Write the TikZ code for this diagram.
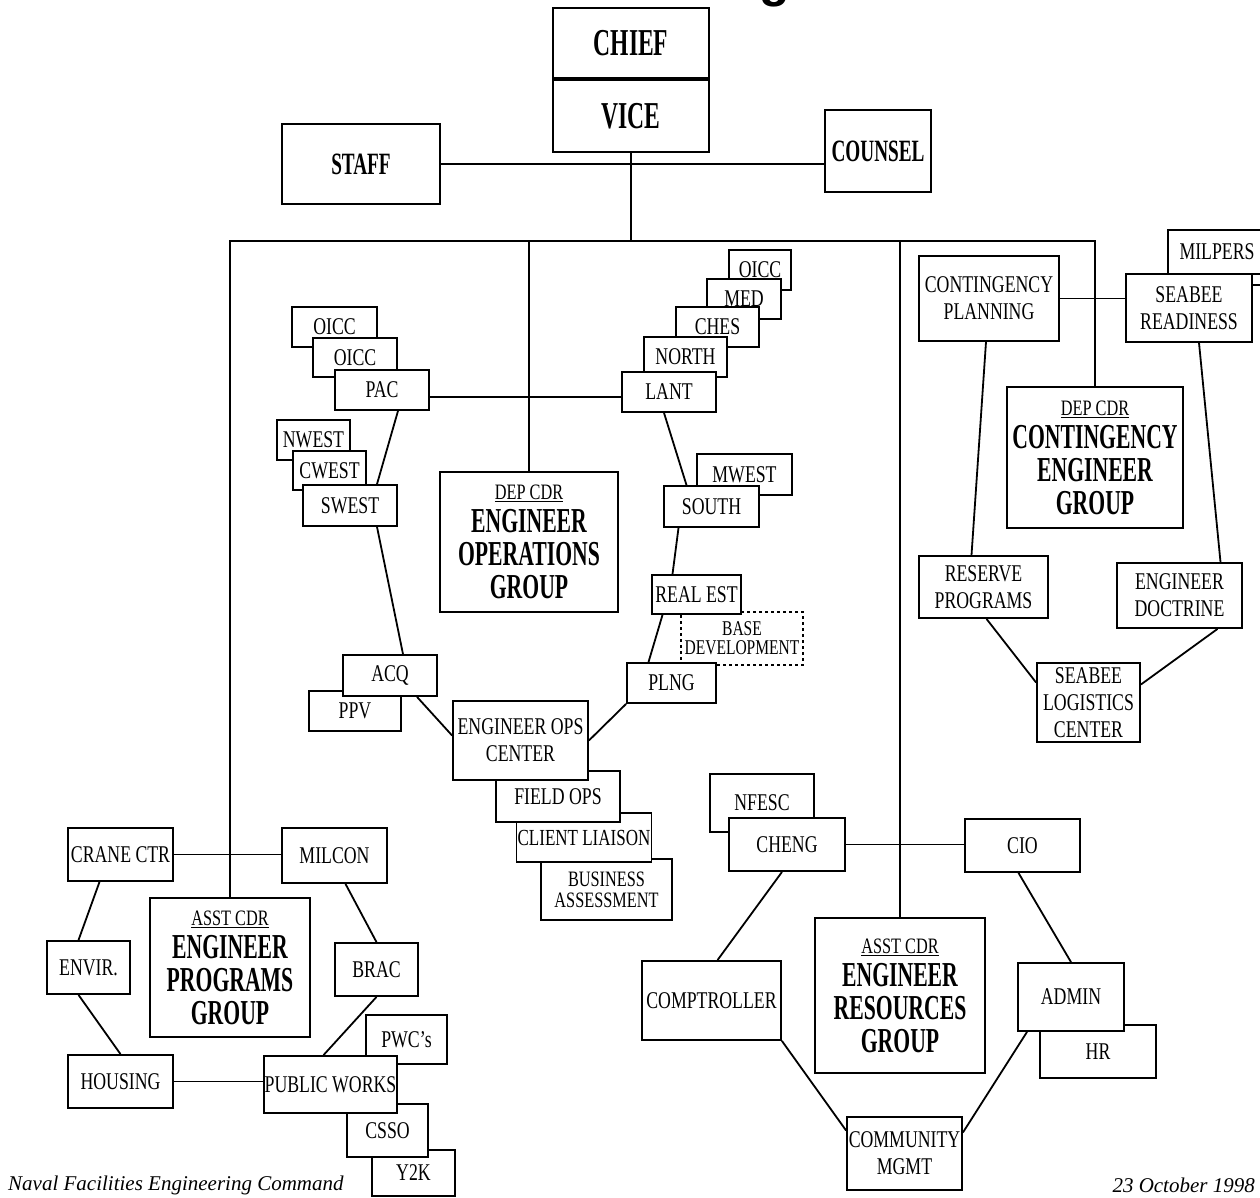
\documentclass[tikz,border=0pt]{standalone}
\usepackage{fontspec}
\setmainfont{Liberation Serif}
\newfontfamily\boxfont[FakeStretch=0.74]{Liberation Serif}
\newfontfamily\headfont[FakeStretch=0.62]{Liberation Serif}
\newfontfamily\titlefont{Liberation Sans}
\usepackage{tikz}
\usetikzlibrary{positioning,calc}

\begin{document}
\begin{tikzpicture}[
  x=1pt, y=-1pt,
  box/.style={rectangle, draw, line width=1.8pt, fill=white, align=center, inner sep=1pt,
    font=\boxfont\fontsize{24}{27}\selectfont},
  sz/.style 2 args={minimum width=#1, minimum height=#2},
  topbox/.style={box, font=\headfont\bfseries\fontsize{38}{38}\selectfont},
  sidebox/.style={box, font=\headfont\bfseries\fontsize{31}{31}\selectfont},
  group/.style={box, font=\headfont\bfseries\fontsize{35}{33}\selectfont},
  link/.style={line width=1.8pt}
]
  \fill[white] (0,0) rectangle (1260,1197);
  \useasboundingbox (0,0) rectangle (1260,1197);

  % Title (cut off at the top)
  \node[font=\titlefont\bfseries\fontsize{50}{50}\selectfont, anchor=base, inner sep=0pt] (title) at (775,-4) {g};

  % Nodes
  \node[topbox, sz={156}{70}] (chief) at (631,43) {CHIEF};
  \node[topbox, sz={156}{72}] (vice) at (631,116) {VICE};
  \node[sidebox, sz={158}{80}] (staff) at (361,164) {STAFF};
  \node[sidebox, sz={106}{82}] (counsel) at (878,151) {COUNSEL};

  % Pacific stack
  \node[box, sz={85}{40}] (oiccA) at (334.5,327) {OICC};
  \node[box, sz={84}{39}] (oiccB) at (355,357.5) {OICC};
  \node[box, sz={94}{40}] (pac) at (382,390) {PAC};
  \node[box, sz={73}{40}] (nwest) at (313.5,440) {NWEST};
  \node[box, sz={73}{39}] (cwest) at (329.5,470.5) {CWEST};
  \node[box, sz={94}{41}] (swest) at (350,505.5) {SWEST};

  % Atlantic stack
  \node[box, sz={62}{40}] (oiccC) at (760,270) {OICC};
  \node[box, sz={74}{40}] (med) at (744,299) {MED};
  \node[box, sz={83}{40}] (ches) at (717.5,327) {CHES};
  \node[box, sz={83}{40}] (north) at (685.5,357) {NORTH};
  \node[box, sz={94}{40}] (lant) at (669,392) {LANT};
  \node[box, sz={95}{41}] (mwest) at (744.5,474.5) {MWEST};
  \node[box, sz={95}{41}] (south) at (711.5,506.5) {SOUTH};

  \node[group, sz={178}{140}] (depops) at (529,542)
    {{\boxfont\mdseries\fontsize{22}{33}\selectfont\underline{DEP CDR}}\\ENGINEER\\OPERATIONS\\GROUP};

  \node[box, dashed, sz={122}{53}, font=\boxfont\fontsize{21}{19}\selectfont] (basedev) at (742,638.5) {BASE\\DEVELOPMENT};
  \node[box, sz={89}{39}] (realest) at (696.5,594.5) {REAL EST};
  \node[box, sz={89}{40}] (plng) at (671.5,683) {PLNG};
  \node[box, sz={92}{40}] (ppv) at (355,711) {PPV};
  \node[box, sz={94}{41}] (acq) at (390,675.5) {ACQ};
  \node[box, sz={131}{61}, font=\boxfont\fontsize{22}{21}\selectfont] (business) at (606.5,889.5) {BUSINESS\\ASSESSMENT};
  \node[box, sz={130}{49}, font=\boxfont\fontsize{23}{27}\selectfont] (client) at (584,837.5) {CLIENT LIAISON};
  \node[box, sz={124}{51}] (fieldops) at (558,796.5) {FIELD OPS};
  \node[box, sz={135}{79}] (eoc) at (520.5,740.5) {ENGINEER OPS\\CENTER};

  % Programs group
  \node[box, sz={105}{53}] (crane) at (120.5,854.5) {CRANE CTR};
  \node[box, sz={105}{55}] (milcon) at (334.5,855.5) {MILCON};
  \node[group, sz={160}{139}] (asstprog) at (230,967.5)
    {{\boxfont\mdseries\fontsize{22}{33}\selectfont\underline{ASST CDR}}\\ENGINEER\\PROGRAMS\\GROUP};
  \node[box, sz={83}{53}] (envir) at (88.5,967.5) {ENVIR.};
  \node[box, sz={83}{53}] (brac) at (376.5,969.5) {BRAC};
  \node[box, sz={105}{53}] (housing) at (120.5,1081.5) {HOUSING};
  \node[box, sz={83}{46}] (y2k) at (413.5,1173) {Y2K};
  \node[box, sz={81}{53}] (csso) at (387.5,1130.5) {CSSO};
  \node[box, sz={81}{49}] (pwcs) at (406.5,1039.5) {PWC’s};
  \node[box, sz={133}{57}] (pw) at (330.5,1084.5) {PUBLIC WORKS};

  % Resources group
  \node[box, sz={104}{58}] (nfesc) at (762,803) {NFESC};
  \node[box, sz={116}{53}] (cheng) at (787,844.5) {CHENG};
  \node[box, sz={115}{53}] (cio) at (1022.5,845.5) {CIO};
  \node[group, sz={170}{155}] (asstres) at (900,995.5)
    {{\boxfont\mdseries\fontsize{22}{33}\selectfont\underline{ASST CDR}}\\ENGINEER\\RESOURCES\\GROUP};
  \node[box, sz={139}{79}] (comptroller) at (711.5,1000.5) {COMPTROLLER};
  \node[box, sz={116}{53}] (hr) at (1098,1051.5) {HR};
  \node[box, sz={106}{68}] (admin) at (1071,997) {ADMIN};
  \node[box, sz={115}{73}] (community) at (904.5,1153.5) {COMMUNITY\\MGMT};

  % Contingency group
  \node[box, sz={140}{85}] (contplan) at (989,298.5) {CONTINGENCY\\PLANNING};
  \node[box, sz={98}{44}] (milpers) at (1217,252) {MILPERS};
  \node[box, sz={126}{68}] (readiness) at (1189,308) {SEABEE\\READINESS};
  \node[group, sz={176}{141}] (depcont) at (1095,457.5)
    {{\boxfont\mdseries\fontsize{22}{33}\selectfont\underline{DEP CDR}}\\CONTINGENCY\\ENGINEER\\GROUP};
  \node[box, sz={129}{62}] (reserve) at (983.5,587) {RESERVE\\PROGRAMS};
  \node[box, sz={125}{65}] (doctrine) at (1179.5,595.5) {ENGINEER\\DOCTRINE};
  \node[box, sz={103}{79}] (logistics) at (1088.5,702.5) {SEABEE\\LOGISTICS\\CENTER};

  % Footer
  \node[anchor=base west, inner sep=0pt, font=\itshape\fontsize{21}{21}\selectfont] (footL) at (8,1190) {Naval Facilities Engineering Command};
  \node[anchor=base east, inner sep=0pt, font=\itshape\fontsize{21}{21}\selectfont] (footR) at (1255,1192) {23 October 1998};

  % Lines
  \coordinate (bus) at (631,241);
  \coordinate (edgeR) at (1262,285);
  \draw[link] (vice.south) -- (bus);
  \draw[link] (staff.east) -- (staff.east -| counsel.west);
  \draw[link] (asstprog.north) |- (bus) -| (depcont.north);
  \draw[link] (depops.north) -- (depops.north |- bus);
  \draw[link] (asstres.north) -- (asstres.north |- bus);

  \draw[link] ([yshift=-7pt]pac.east) -- ([yshift=-7pt]pac.east -| lant.west);
  \draw[link] ([xshift=16pt]pac.south) -- ([xshift=27pt]swest.north);
  \draw[link] ([xshift=27pt]swest.south) -- ([xshift=13pt]acq.north);
  \draw[link] ([xshift=27pt]acq.south) -- ([yshift=5pt]eoc.west);
  \draw[link] ([xshift=-5pt]lant.south) -- ([xshift=-25pt]south.north);
  \draw[link] ([xshift=-33pt]south.south) -- ([xshift=-24pt]realest.north);
  \draw[link] ([xshift=-34pt]realest.south) -- ([xshift=-23pt]plng.north);
  \draw[link] (plng.south west) -- (eoc.east);

  \draw[link] (crane.east) -- (crane.east -| milcon.west);
  \draw[link] ([xshift=-21pt]crane.south) -- ([xshift=-10pt]envir.north);
  \draw[link] ([xshift=-10pt]envir.south) -- (housing.north);
  \draw[link] (housing.east) -- (housing.east -| pw.west);
  \draw[link] ([xshift=11pt]milcon.south) -- (brac.north);
  \draw[link] (brac.south) -- ([xshift=-7pt]pw.north);

  \draw[link] (cheng.east) -- (cheng.east -| cio.west);
  \draw[link] ([xshift=-5pt]cheng.south) -- ([xshift=6pt]comptroller.north);
  \draw[link] (comptroller.south east) -- ([yshift=23pt]community.west);
  \draw[link] ([xshift=-4pt]cio.south) -- (admin.north);
  \draw[link] ([xshift=-44pt]admin.south) -- ([yshift=21pt]community.east);

  \draw[link] (contplan.east) -- (contplan.east -| readiness.west);
  \draw[link] (edgeR -| readiness.east) -- (edgeR);
  \draw[link] ([xshift=-3pt]contplan.south) -- ([xshift=-12pt]reserve.north);
  \draw[link] ([xshift=10pt]readiness.south) -- ([xshift=41pt]doctrine.north);
  \draw[link] ([xshift=3pt]reserve.south) -- ([yshift=20pt]logistics.west);
  \draw[link] ([xshift=38pt]doctrine.south) -- ([yshift=18pt]logistics.east);

\end{tikzpicture}
\end{document}
